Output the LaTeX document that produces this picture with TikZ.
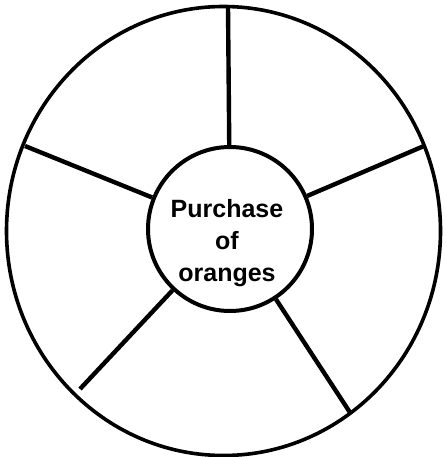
\documentclass[tikz,border=0pt]{standalone}
\usepackage{fontspec}
\setmainfont{Liberation Sans}
\begin{document}
\begin{tikzpicture}[x=1pt,y=-1pt,
  rim/.style={line width=3.6pt},
  spoke/.style={line width=4.4pt},
  hub/.style={circle,draw,line width=4pt,minimum size=164pt,inner sep=0pt},
  hubtext/.style={align=center,inner sep=0pt,font=\bfseries\fontsize{25}{32}\selectfont}]
\useasboundingbox (0,0) rectangle (445,457);
\draw[rim] (223.5,231) ellipse [x radius=217pt, y radius=224.5pt];
\node[hub] (hub) at (230,229) {};
\node[hubtext] (label) at (227,243) {Purchase\\of\\oranges};
\coordinate (o1) at (228,7);
\coordinate (o2) at (424,146);
\coordinate (o3) at (351,414);
\coordinate (o4) at (80,389);
\coordinate (o5) at (25,146);
\foreach \o in {o1,o2,o3,o4,o5}{\draw[spoke] (hub) -- (\o);}
\end{tikzpicture}
\end{document}
